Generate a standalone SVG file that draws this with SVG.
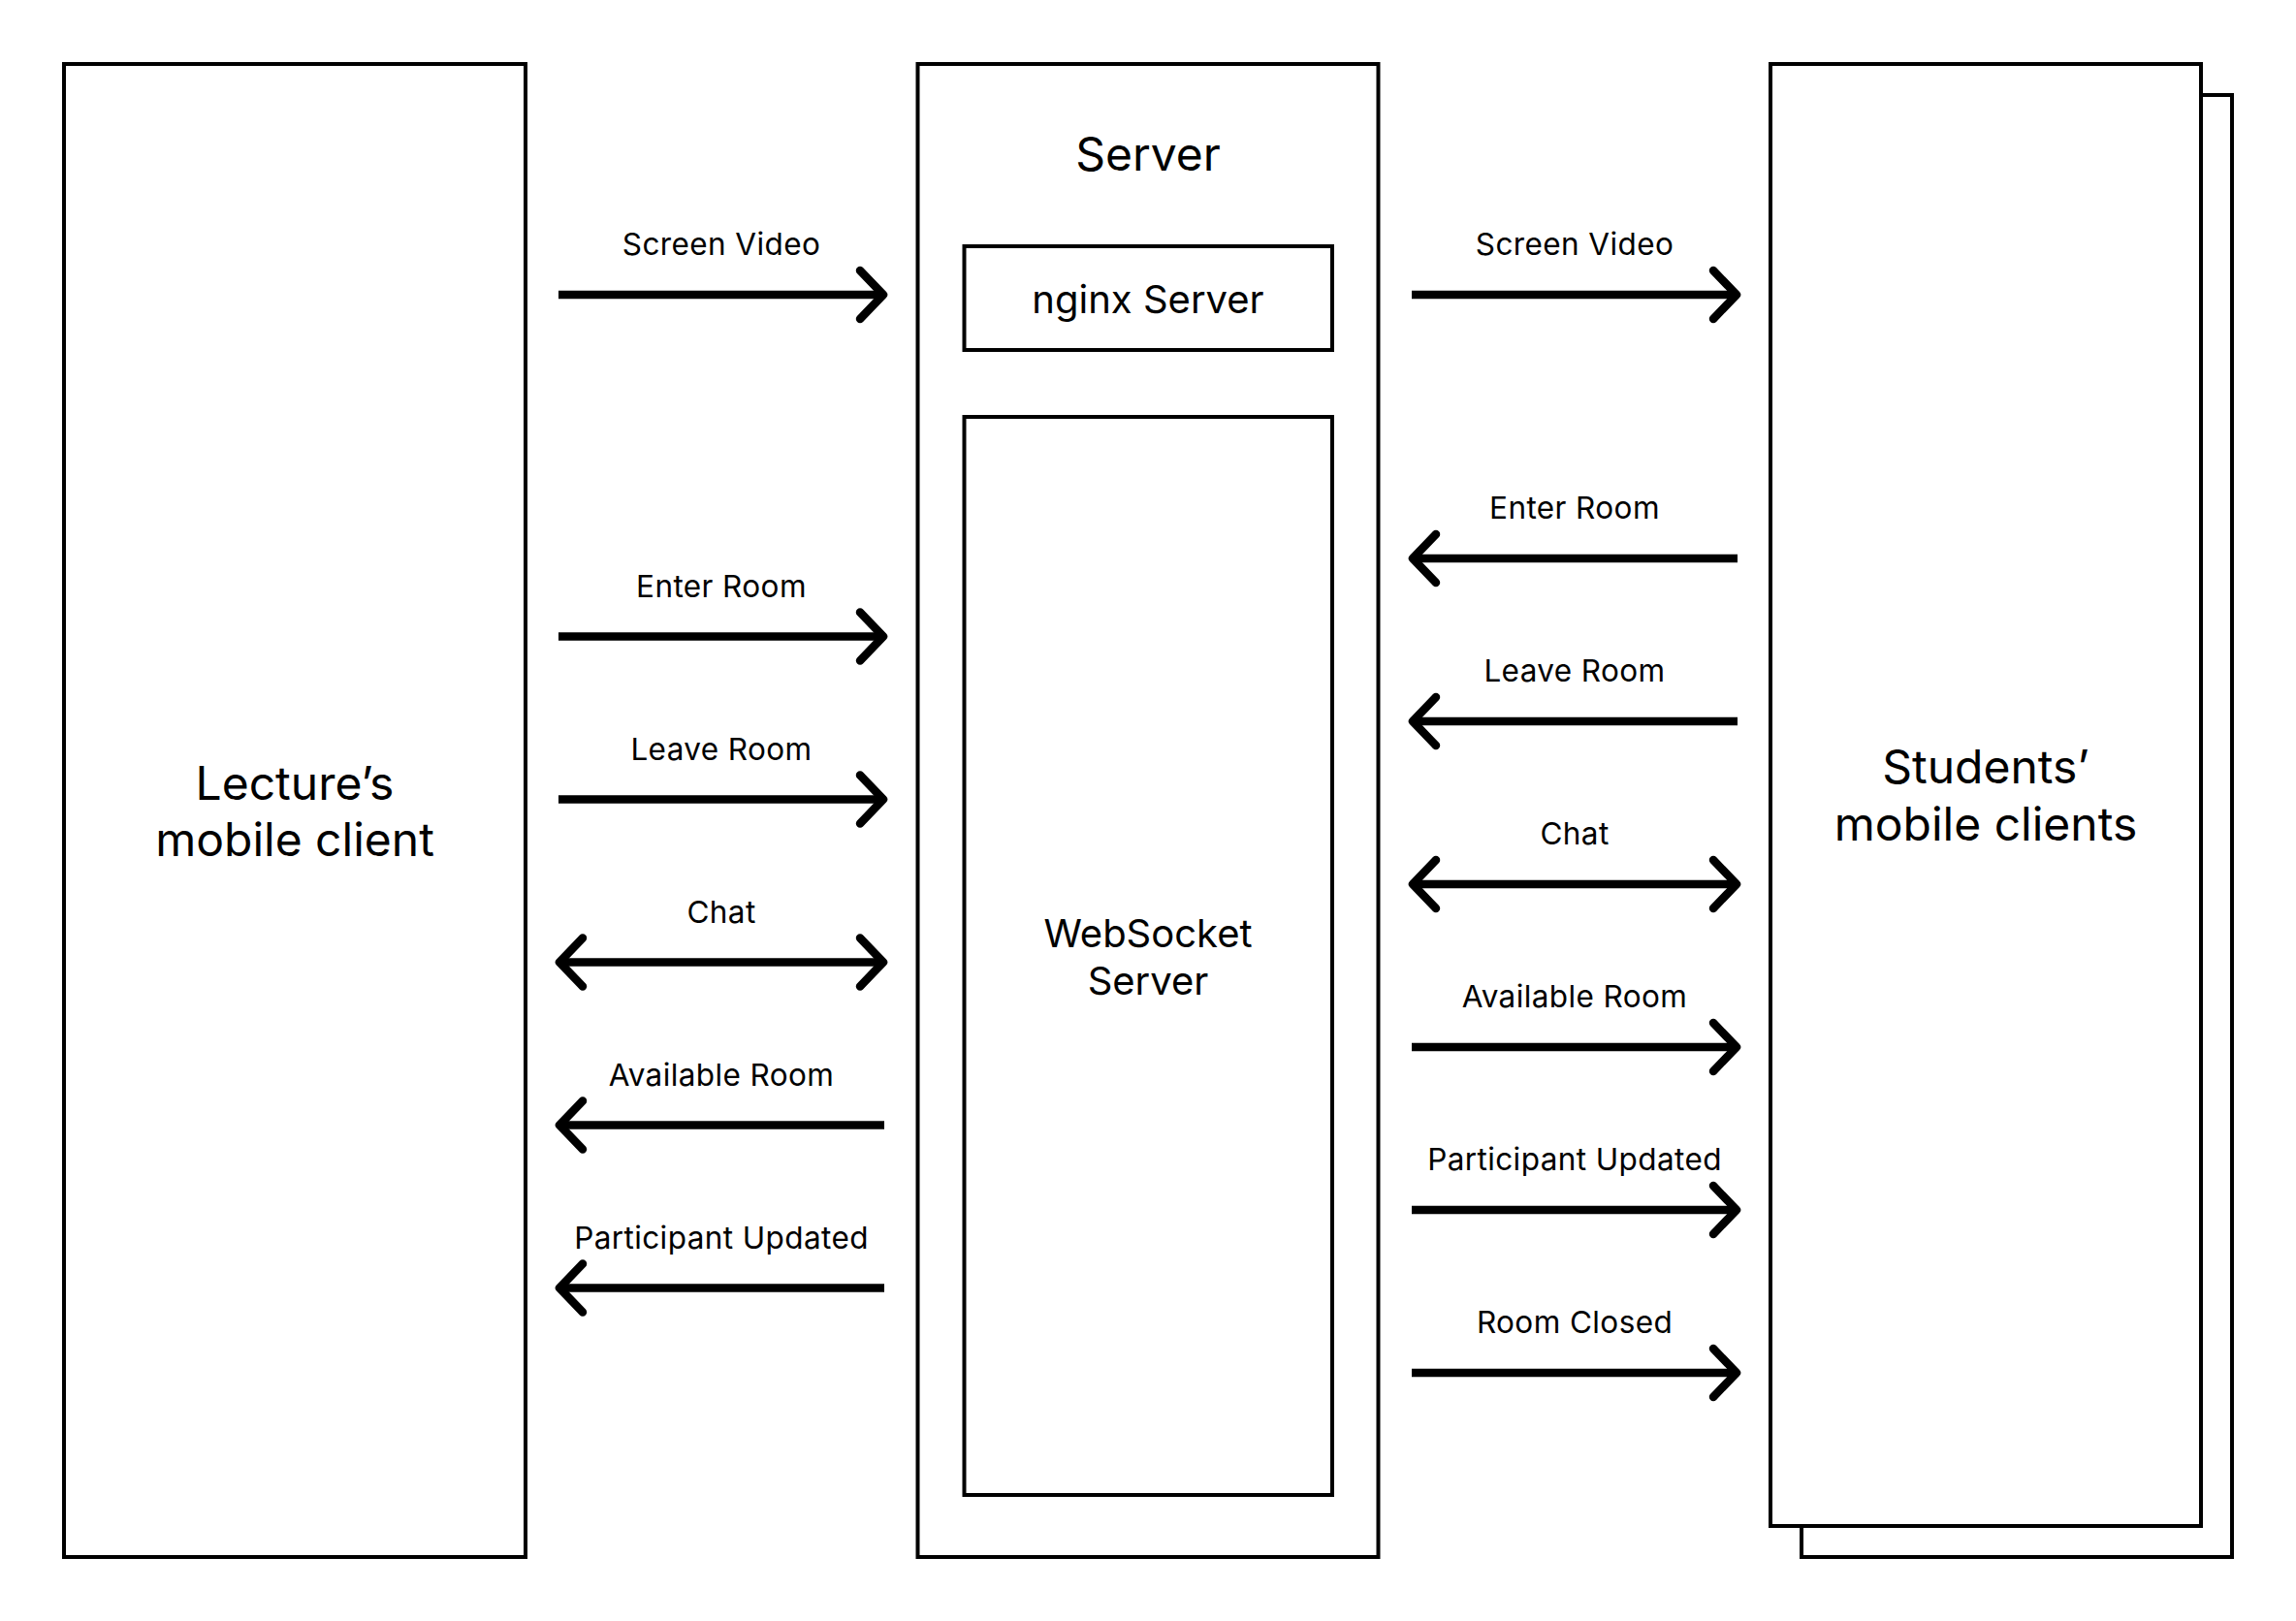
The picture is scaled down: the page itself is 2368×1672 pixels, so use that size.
<svg xmlns="http://www.w3.org/2000/svg" width="2368" height="1672" viewBox="0 0 2368 1672">
  <style>
    .box { fill: #ffffff; stroke: #000000; stroke-width: 4; }
    .t { font-family: Inter, "Liberation Sans", Arial, sans-serif; fill: #000000; text-anchor: middle; }
    .big { font-size: 48px; }
    .mid { font-size: 40px; }
    .lbl { font-size: 31.5px; letter-spacing: 0.4px; }
    .arr { fill: none; stroke: #000000; stroke-width: 8.5; stroke-linecap: butt; }
    .one { marker-end: url(#ah); }
    .two { marker-start: url(#ah); marker-end: url(#ah); }
    .rev { marker-start: url(#ah); }
  </style>
  <defs>
    <marker id="ah" markerUnits="userSpaceOnUse" markerWidth="80" markerHeight="80" viewBox="-40 -40 80 80" refX="0" refY="0" orient="auto-start-reverse" overflow="visible">
      <path d="M-24,-25 L0,0 L-24,25" fill="none" stroke="#000000" stroke-width="8.5" stroke-linecap="round" stroke-linejoin="round"/>
    </marker>
  </defs>
  <rect width="2368" height="1672" fill="#ffffff"/>

  <g id="lecturer">
    <rect class="box" x="66" y="66" width="476" height="1540"/>
    <text class="t big" x="304" y="825">Lecture’s</text>
    <text class="t big" x="304" y="883">mobile client</text>
  </g>

  <g id="server">
    <rect class="box" x="946.5" y="66" width="475" height="1540"/>
    <text class="t big" x="1184" y="176">Server</text>
  </g>

  <g id="nginx">
    <rect class="box" x="994.5" y="254" width="379.5" height="107"/>
    <text class="t mid" x="1184" y="323">nginx Server</text>
  </g>

  <g id="websocket">
    <rect class="box" x="994.5" y="430" width="379.5" height="1112"/>
    <text class="t mid" x="1184" y="977">WebSocket</text>
    <text class="t mid" x="1184" y="1026">Server</text>
  </g>

  <g id="students">
    <rect class="box" x="1858" y="98" width="444" height="1508"/>
    <rect class="box" x="1826" y="66" width="444" height="1508"/>
    <text class="t big" x="2048" y="808">Students’</text>
    <text class="t big" x="2048" y="867">mobile clients</text>
  </g>

  <g id="connectors">
    <path class="arr one" d="M576,304 H911"/>
    <path class="arr one" d="M576,656.5 H911"/>
    <path class="arr one" d="M576,824.5 H911"/>
    <path class="arr two" d="M577,992.5 H911"/>
    <path class="arr rev" d="M577,1160.5 H912"/>
    <path class="arr rev" d="M577,1328.5 H912"/>

    <path class="arr one" d="M1456,304 H1791"/>
    <path class="arr rev" d="M1457,576 H1792"/>
    <path class="arr rev" d="M1457,744 H1792"/>
    <path class="arr two" d="M1457,912 H1791"/>
    <path class="arr one" d="M1456,1080 H1791"/>
    <path class="arr one" d="M1456,1248 H1791"/>
    <path class="arr one" d="M1456,1416 H1791"/>
  </g>

  <g id="labels">
    <text class="t lbl" x="744" y="263">Screen Video</text>
    <text class="t lbl" x="744" y="615.5">Enter Room</text>
    <text class="t lbl" x="744" y="783.5">Leave Room</text>
    <text class="t lbl" x="744" y="951.5">Chat</text>
    <text class="t lbl" x="744" y="1119.5">Available Room</text>
    <text class="t lbl" x="744" y="1287.5">Participant Updated</text>

    <text class="t lbl" x="1624" y="263">Screen Video</text>
    <text class="t lbl" x="1624" y="535">Enter Room</text>
    <text class="t lbl" x="1624" y="703">Leave Room</text>
    <text class="t lbl" x="1624" y="871">Chat</text>
    <text class="t lbl" x="1624" y="1039">Available Room</text>
    <text class="t lbl" x="1624" y="1207">Participant Updated</text>
    <text class="t lbl" x="1624" y="1375">Room Closed</text>
  </g>
</svg>
